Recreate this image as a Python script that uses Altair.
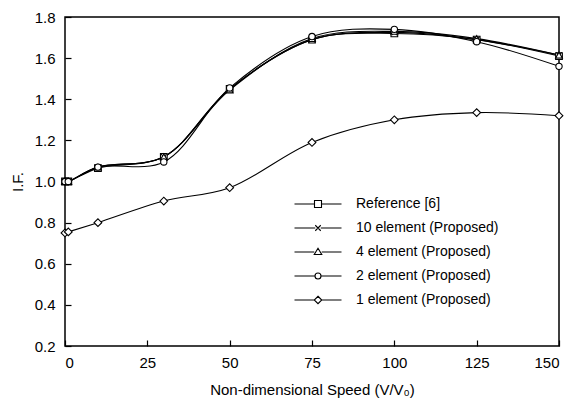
import altair as alt
import pandas as pd

# ---- data ----
speed = [0, 1, 10, 30, 50, 75, 100, 125, 150]
ref6 = [1.0, 1.0, 1.065, 1.12, 1.45, 1.69, 1.72, 1.69, 1.61]
el10 = [1.0, 1.0, 1.07, 1.12, 1.45, 1.69, 1.725, 1.69, 1.615]
el4 = [1.0, 1.0, 1.07, 1.12, 1.445, 1.695, 1.73, 1.695, 1.615]
el2 = [1.0, 1.0, 1.07, 1.095, 1.455, 1.705, 1.74, 1.68, 1.56]
el1 = [0.75, 0.755, 0.80, 0.905, 0.97, 1.19, 1.30, 1.335, 1.32]

series_names = [
    "Reference [6]",
    "10 element (Proposed)",
    "4 element (Proposed)",
    "2 element (Proposed)",
    "1 element (Proposed)",
]
series_values = [ref6, el10, el4, el2, el1]

x_ticks = [0, 25, 50, 75, 100, 125, 150]
y_ticks = [0.2, 0.4, 0.6, 0.8, 1.0, 1.2, 1.4, 1.6, 1.8]

# marker shapes (plot) and legend glyphs (marker with line stubs)
marker_paths = [
    "square",
    "M-1,-1L1,1M-1,1L1,-1",
    "triangle-up",
    "circle",
    "diamond",
]
marker_sizes = [45, 30, 45, 40, 60]

legend_paths = [
    "M-4.7,0H-0.7M0.7,0H4.7M-0.7,-0.7H0.7V0.7H-0.7Z",
    "M-4.7,0H-0.55M0.55,0H4.7M-0.55,-0.55L0.55,0.55M-0.55,0.55L0.55,-0.55",
    "M-4.7,0H-0.75M0.75,0H4.7M0,-0.75L0.75,0.5H-0.75Z",
    "M-4.7,0H-0.6M0.6,0H4.7M0.6,0A0.6,0.6,0,1,1,-0.6,0A0.6,0.6,0,1,1,0.6,0",
    "M-4.7,0H-0.75M0.75,0H4.7M0,-0.75L0.75,0L0,0.75L-0.75,0Z",
]

rows = []
for name, vals in zip(series_names, series_values):
    for xv, yv in zip(speed, vals):
        rows.append({"series": name, "speed": xv, "IF": yv})
df = pd.DataFrame(rows)

FONT = "Liberation Sans"

x_enc = alt.X(
    "speed:Q",
    scale=alt.Scale(domain=[0, 150], nice=False, zero=False),
    axis=alt.Axis(
        values=x_ticks,
        title="Non-dimensional Speed (V/V₀)",
        offset=-6,
        tickSize=6,
        labelPadding=9,
        titlePadding=12,
        domain=False,
        grid=False,
    ),
)
y_enc = alt.Y(
    "IF:Q",
    scale=alt.Scale(domain=[0.2, 1.8], nice=False, zero=False),
    axis=alt.Axis(
        values=y_ticks,
        format=".1f",
        title="I.F.",
        offset=-6,
        tickSize=6,
        labelPadding=10,
        titlePadding=9,
        domain=False,
        grid=False,
    ),
)

lines = (
    alt.Chart(df)
    .mark_line(color="black", strokeWidth=1.1, interpolate="catmull-rom")
    .encode(x=x_enc, y=y_enc, detail="series:N")
)

layers = [lines]
for name, shp, sz in zip(series_names, marker_paths, marker_sizes):
    layers.append(
        alt.Chart(df)
        .transform_filter(alt.datum.series == name)
        .mark_point(shape=shp, size=sz, filled=False, fill="white", stroke="black",
                    strokeWidth=1.1, opacity=1)
        .encode(x=x_enc, y=y_enc)
    )

legend_layer = (
    alt.Chart(df)
    .transform_filter("datum.speed > 1000")
    .mark_point(size=100, filled=False, stroke="black", strokeWidth=1.1, opacity=1)
    .encode(
        x="speed:Q",
        y="IF:Q",
        shape=alt.Shape(
            "series:N",
            scale=alt.Scale(domain=series_names, range=legend_paths),
            legend=alt.Legend(
                title=None,
                orient="none",
                legendX=246,
                legendY=180,
                labelOffset=31,
                rowPadding=10,
                symbolSize=100,
                symbolStrokeColor="black",
                symbolFillColor="white",
                symbolStrokeWidth=1.1,
                labelFont=FONT,
                labelFontSize=14,
                labelColor="black",
                padding=0,
            ),
        ),
    )
)
layers.append(legend_layer)

chart = (
    alt.layer(*layers)
    .properties(
        width=494,
        height=329,
        autosize=alt.AutoSizeParams(type="none"),
        padding={"left": 57, "top": 9, "right": 7, "bottom": 58},
        background="white",
    )
    .configure_view(stroke="black", strokeWidth=1.5)
    .configure_axis(
        labelFont=FONT,
        labelFontSize=15,
        labelColor="black",
        titleFont=FONT,
        titleFontSize=15,
        titleFontWeight="normal",
        titleColor="black",
        tickColor="black",
        tickWidth=1.2,
    )
)

chart.save("out.html", embed_options={"renderer": "svg", "actions": False})
